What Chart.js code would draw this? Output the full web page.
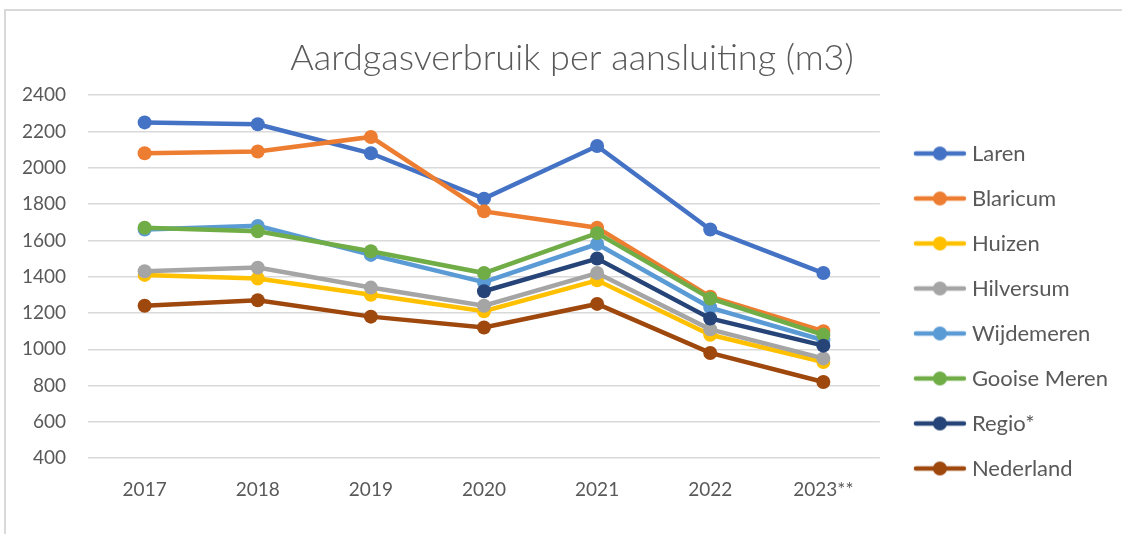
<!DOCTYPE html>
<html>
<head>
    <script src="https://cdn.jsdelivr.net/npm/chart.js"></script>
    <style>
        body { margin: 0; background: #fff; }
        .wrap { position: relative; width: 1122px; height: 534px; }
        .frame {
            position: absolute; left: 4px; top: 9px; right: 0; bottom: 0;
            border-top: 2px solid #d9d9d9;
            border-left: 2px solid #d9d9d9;
        }
        canvas { position: absolute; left: 0; top: 0; }
    </style>
</head>
<body>
<div class="wrap">
    <div class="frame"></div>
    <canvas id="gasChart" width="1122" height="534"></canvas>
</div>
<script>
// jaren
const years = ['2017', '2018', '2019', '2020', '2021', '2022', '2023**'];

// verbruik per aansluiting (m3)
const laren       = [2250, 2240, 2080, 1830, 2120, 1660, 1420];
const blaricum    = [2080, 2090, 2170, 1760, 1670, 1290, 1100];
const huizen      = [1410, 1390, 1300, 1210, 1380, 1080, 930];
const hilversum   = [1430, 1450, 1340, 1240, 1420, 1110, 950];
const wijdemeren  = [1660, 1680, 1520, 1370, 1580, 1230, 1050];
const gooiseMeren = [1670, 1650, 1540, 1420, 1640, 1280, 1080];
const regio       = [null, null, null, 1320, 1500, 1170, 1020];
const nederland   = [1240, 1270, 1180, 1120, 1250, 980, 820];

const seriesNames  = ['Laren', 'Blaricum', 'Huizen', 'Hilversum', 'Wijdemeren', 'Gooise Meren', 'Regio*', 'Nederland'];
const seriesData   = [laren, blaricum, huizen, hilversum, wijdemeren, gooiseMeren, regio, nederland];
const seriesColors = ['#4472C4', '#ED7D31', '#FFC000', '#A5A5A5', '#5B9BD5', '#70AD47', '#264478', '#9E480E'];

// legend-symbool: lijn met bolletje (links wat lege ruimte)
function legendSymbol(color) {
    const c = document.createElement('canvas');
    c.width = 70; c.height = 16;
    const g = c.getContext('2d');
    g.strokeStyle = color;
    g.lineWidth = 4.5;
    g.lineCap = 'round';
    g.beginPath();
    g.moveTo(19, 8); g.lineTo(67, 8);
    g.stroke();
    g.fillStyle = color;
    g.beginPath();
    g.arc(43, 8, 7, 0, Math.PI * 2);
    g.fill();
    return c;
}

// titel iets naar rechts en legenda iets omlaag, zoals in het origineel
const nudge = {
    id: 'nudge',
    afterLayout(chart) {
        chart.legend.top += 36;
        chart.legend.bottom += 36;
        chart.titleBlock.left += 13;
        chart.titleBlock.right += 13;
    }
};

const datasets = seriesNames.map((name, i) => ({
    label: name,
    data: seriesData[i],
    borderColor: seriesColors[i],
    backgroundColor: seriesColors[i],
    borderWidth: 4.5,
    pointRadius: 7,
    pointHoverRadius: 7,
    pointBorderWidth: 0,
    tension: 0,
    order: seriesNames.length - i
}));

const txt = '#595959';
const fam = 'Lato, "Open Sans", sans-serif';

new Chart(document.getElementById('gasChart'), {
    type: 'line',
    data: { labels: years, datasets: datasets },
    plugins: [nudge],
    options: {
        responsive: false,
        animation: false,
        layout: { padding: { left: 0, right: 4, top: 37, bottom: 21 } },
        plugins: {
            title: {
                display: true,
                text: 'Aardgasverbruik per aansluiting (m3)',
                color: txt,
                font: { family: fam, size: 36, weight: '300' },
                padding: { top: 0, bottom: 15 }
            },
            legend: {
                position: 'right',
                labels: {
                    color: txt,
                    font: { family: fam, size: 22 },
                    usePointStyle: true,
                    pointStyleWidth: 58,
                    padding: 23,
                    generateLabels: (chart) => {
                        const items = Chart.defaults.plugins.legend.labels.generateLabels(chart);
                        items.sort((a, b) => a.datasetIndex - b.datasetIndex);
                        items.forEach(it => {
                            it.pointStyle = legendSymbol(seriesColors[it.datasetIndex]);
                        });
                        return items;
                    }
                }
            },
            tooltip: { enabled: false }
        },
        scales: {
            x: {
                offset: true,
                grid: { display: false },
                border: { display: false },
                ticks: { color: txt, font: { family: fam, size: 19 }, padding: 12 }
            },
            y: {
                min: 400,
                max: 2400,
                border: { display: false },
                grid: { color: '#d9d9d9', lineWidth: 1.5, drawTicks: false },
                ticks: {
                    stepSize: 200,
                    color: txt,
                    font: { family: fam, size: 19 },
                    padding: 22,
                    callback: (v) => String(v)
                }
            }
        }
    }
});
</script>
</body>
</html>
